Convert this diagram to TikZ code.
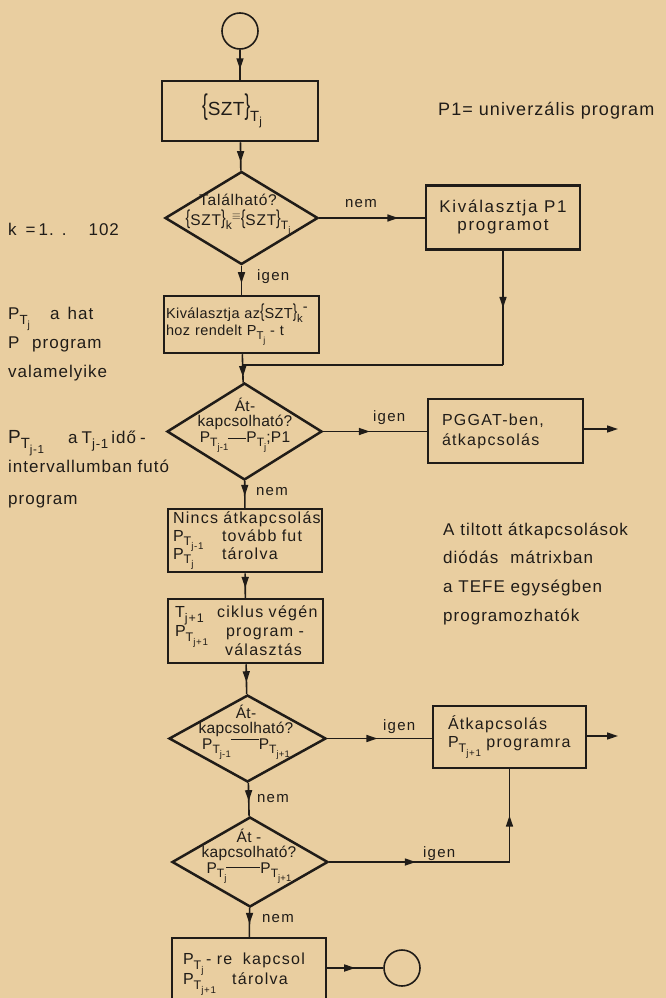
\documentclass[tikz,border=0pt]{standalone}
\usepackage{fontspec}
\setmainfont{Liberation Sans}[LetterSpace=8]
\newfontfamily\dfont{Liberation Sans}[LetterSpace=2]
\newfontfamily\sfont{Liberation Sans}[LetterSpace=3]
\newfontfamily\nfont{Liberation Sans}[LetterSpace=6]
\usetikzlibrary{shapes.geometric,arrows.meta,decorations.markings}
\definecolor{paper}{RGB}{233,206,160}
\definecolor{ink}{RGB}{32,28,24}
\newcommand\sbs[1]{\raisebox{-0.3em}{\scalebox{0.78}{#1}}}
\newcommand\setfs[2]{\fontsize{#1}{#2}\selectfont\lineskiplimit=-30pt\lineskip=0pt\relax}
\newcommand\connline[2]{\raisebox{#2}{\rule{#1}{0.8pt}}}
\newcommand\lbr[1][1.5]{\raisebox{0.06em}{\scalebox{0.9}[#1]{\{}}}
\newcommand\rbr[1][1.5]{\raisebox{0.06em}{\scalebox{0.9}[#1]{\}}}}
\tikzset{
  midarrow/.style={postaction={decorate,decoration={markings,mark=at position #1 with {\arrow{Triangle[length=11pt,width=7pt]}}}}},
  midarrow/.default=0.55,
  conn/.style={draw=ink,line width=1.6pt},
  endarrow/.style={draw=ink,line width=1.6pt,-{Triangle[length=11pt,width=7pt]}},
  box/.style={draw=ink,line width=2.5pt,rectangle,inner ysep=0pt,font=\setfs{16}{18},text=ink},
  dia/.style={draw=ink,line width=2.5pt,shape=diamond,inner sep=0pt},
  dtext/.style={font=\dfont\setfs{15.5}{15.5},align=center,text=ink,inner sep=0pt},
  lbl/.style={font=\setfs{15}{15},text=ink,inner sep=0pt,anchor=base west},
  note/.style={font=\nfont\setfs{17}{17},text=ink,inner sep=0pt,anchor=base west},
  term/.style={draw=ink,line width=1.6pt,circle,minimum size=36pt,inner sep=0pt}
}
\begin{document}
\begin{tikzpicture}[x=1pt,y=-1pt]
\useasboundingbox (0,0) rectangle (666,998);
\clip (0,0) rectangle (666,998);
\fill[paper] (0,0) rectangle (666,998);

% terminals
\node[term] (start) at (240,31) {};
\node[term] (stop) at (402,968) {};

% boxes
\node[box,minimum width=156pt,minimum height=60pt,font=\dfont\setfs{19}{22}] (szt) at (240,111)
  {\hspace{-16pt}\lbr[1.5]SZT\rbr[1.5]\sbs{T\sbs{j}}};
\node[box,minimum width=154pt,minimum height=64pt,align=center,font=\addfontfeature{LetterSpace=10}\setfs{17}{18}] (p1box) at (503,217.5)
  {Kiválasztja P1\\programot};
\node[box,font=\sfont\setfs{14.5}{17},text width=151pt,inner xsep=2pt,minimum height=57pt,align=left] (sel) at (241.5,324.5)
  {\mbox{Kiválasztja az\lbr[1.3]SZT\rbr[1.3]\sbs{k}\raisebox{0.5em}{-}}\\\mbox{hoz rendelt P\sbs{T\sbs{j}}\,\,- t}};
\node[box,text width=127pt,inner xsep=14pt,minimum height=64pt,align=left] (pggat) at (505.5,431)
  {\mbox{PGGAT-ben,}\\[2pt]\mbox{átkapcsolás}};
\node[box,text width=144pt,inner xsep=5pt,minimum height=63pt,align=left] (nincs) at (245,540.5)
  {\mbox{Nincs átkapcsolás}\\
   \mbox{\makebox[49pt][l]{P\sbs{T\sbs{j-1}}}tovább fut}\\
   \mbox{\makebox[49pt][l]{P\sbs{T\sbs{j}}}tárolva}};
\node[box,text width=141pt,inner xsep=7pt,minimum height=64pt,align=left] (tj1) at (245.5,631)
  {\mbox{\makebox[42pt][l]{T\sbs{j+1}}ciklus végén}\\[1pt]
   \mbox{\makebox[51pt][l]{P\sbs{T\sbs{j+1}}}program -}\\[1pt]
   \mbox{\makebox[50pt][l]{}választás}};
\node[box,text width=123pt,inner xsep=15pt,minimum height=62pt,align=left] (atk) at (509.5,737)
  {\mbox{Átkapcsolás}\\\mbox{P\sbs{T\sbs{j+1}} programra}};
\node[box,text width=132pt,inner xsep=11pt,minimum height=72pt,align=left] (last) at (249,974)
  {\mbox{P\sbs{T\sbs{j}}\,- re\ \ kapcsol}\\[2pt]\mbox{P\sbs{T\sbs{j+1}}\ \ \ tárolva}};

% diamonds
\node[dia,minimum width=153pt,minimum height=93pt] (d1) at (241.5,218) {};
\node[dtext,font=\dfont\addfontfeature{LetterSpace=5}\setfs{15.5}{15.5}] (t1) at (238,215)
  {Található?\\[4pt]\lbr[1.3]SZT\rbr[1.3]\sbs{k}\raisebox{0.35em}{\scalebox{0.8}{$\equiv$}}\lbr[1.3]SZT\rbr[1.3]\sbs{T\sbs{j}}};
\node[dia,minimum width=155pt,minimum height=97pt] (d2) at (244.5,431.5) {};
\node[dtext] (t2) at (245,425) {Át-\\kapcsolható?\\P\sbs{T\sbs{j-1}}\connline{18pt}{3pt}P\sbs{T\sbs{j}};P1};
\node[dia,minimum width=157pt,minimum height=87pt] (d3) at (247.5,738.5) {};
\node[dtext] (t3) at (246,732) {Át-\\kapcsolható?\\P\sbs{T\sbs{j-1}}\connline{28pt}{9pt}P\sbs{T\sbs{j+1}}};
\node[dia,minimum width=156pt,minimum height=90pt] (d4) at (250,862) {};
\node[dtext] (t4) at (249,856) {Át -\\kapcsolható?\\P\sbs{T\sbs{j}}\connline{34pt}{5pt}P\sbs{T\sbs{j+1}}};

% helper coordinates
\coordinate (jn) at (242.7,365);
\coordinate (outa) at (618,429);
\coordinate (outb) at (618,736);
\coordinate (c4) at (atk.south |- d4.east);

% connectors
\draw[conn,midarrow=0.65] (start) -- (szt);
\draw[conn,midarrow=0.7] (szt) -- (d1);
\draw[conn,midarrow=0.75] (d1.east) -- (p1box.west |- d1.east);
\draw[conn,midarrow=0.6] (d1) -- (sel);
\draw[conn,midarrow=0.5] (p1box.south) -- (p1box.south |- jn);
\draw[conn] (p1box.south |- jn) -- (jn);
\draw[conn,midarrow=0.8] (sel) -- (d2);
\draw[conn,midarrow=0.45] (d2.east) -- (pggat.west |- d2.east);
\draw[endarrow] (pggat.east |- outa) -- (outa);
\draw[conn,midarrow=0.55] (d2) -- (nincs);
\draw[conn,midarrow=0.6] (nincs) -- (tj1);
\draw[conn,midarrow=0.6] (tj1) -- (d3);
\draw[conn,midarrow=0.48] (d3.east) -- (atk.west |- d3.east);
\draw[endarrow] (atk.east |- outb) -- (outb);
\draw[conn,midarrow=0.55] (d3) -- (d4);
\draw[conn,midarrow=0.48] (d4.east) -- (c4);
\draw[conn,midarrow=0.5] (c4) -- (atk.south);
\draw[conn,midarrow=0.55] (d4) -- (last);
\draw[conn,midarrow=0.5] (last.east |- stop) -- (stop);

% branch labels
\node[lbl] (l1) at (345,207) {nem};
\node[lbl] (l2) at (257,280) {igen};
\node[lbl] (l3) at (373,421) {igen};
\node[lbl] (l4) at (256,495) {nem};
\node[lbl] (l5) at (383,730) {igen};
\node[lbl] (l6) at (257,802) {nem};
\node[lbl] (l7) at (423,857) {igen};
\node[lbl] (l8) at (262,922) {nem};

% side notes
\node[note] (k) at (8,235) {k\hspace{9pt}=\hspace{3pt}1.\hspace{8pt}.\hspace{22pt}102};
\node[note] (n1) at (8,319) {\makebox[42pt][l]{P\sbs{T\sbs{j}}}a\hspace{8pt}hat};
\node[note] (n2) at (8,348) {\makebox[24pt][l]{P}program};
\node[note] (n3) at (8,377) {valamelyike};
\node[note] (n4) at (8,443) {\makebox[60pt][l]{\setfs{19}{19}P\sbs{T\sbs{j-1}}}a\hspace{4pt}T\sbs{j-1}\hspace{3pt}idő\hspace{4pt}-};
\node[note] (n5) at (8,472) {intervallumban futó};
\node[note] (n6) at (8,504) {program};
\node[note,font=\nfont\setfs{18}{18}] (r1) at (438,115) {P1=\hspace{6pt}univerzális program};
\node[note] (r2) at (443,535) {A tiltott átkapcsolások};
\node[note] (r3) at (443,563) {diódás\hspace{12pt}mátrixban};
\node[note] (r4) at (443,592) {a TEFE egységben};
\node[note] (r5) at (443,621) {programozhatók};
\end{tikzpicture}
\end{document}
